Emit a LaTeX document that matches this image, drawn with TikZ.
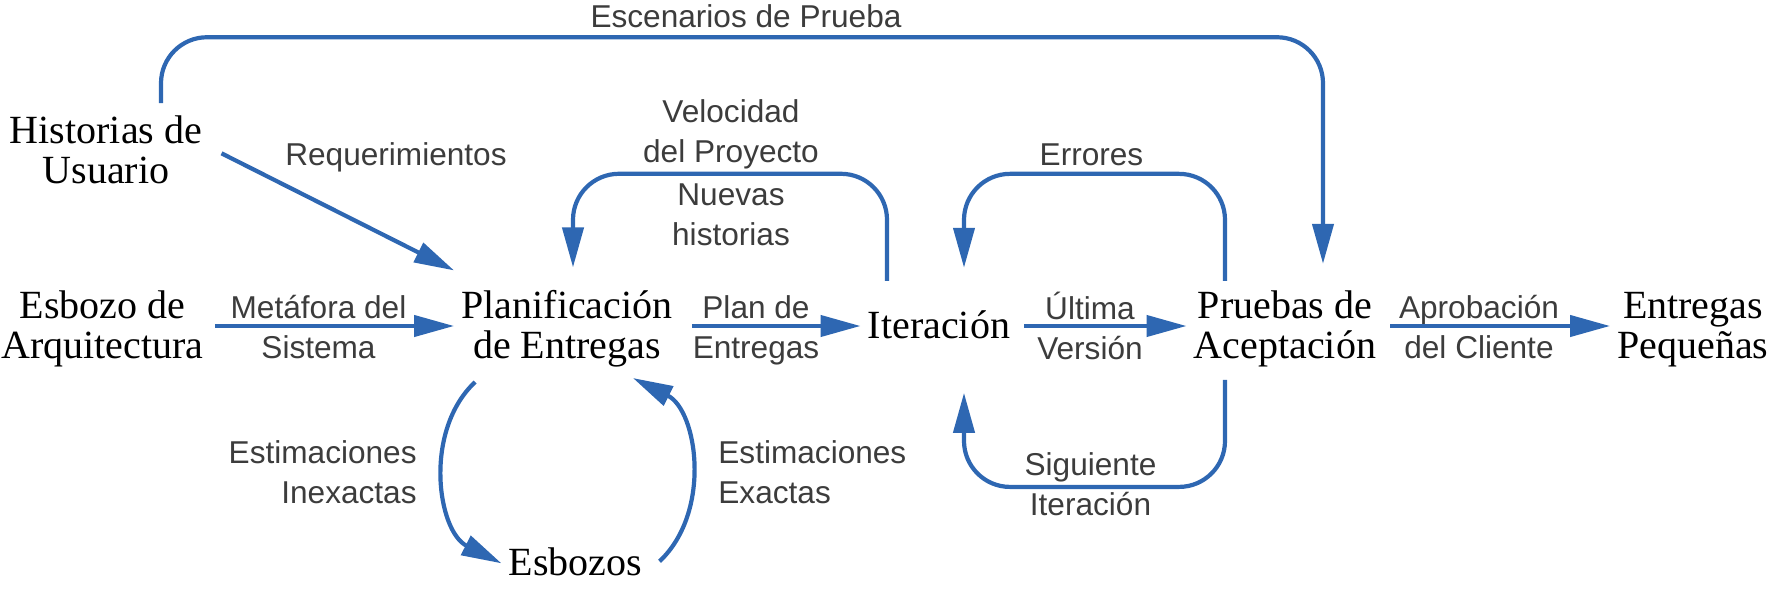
\documentclass[tikz,border=0pt]{standalone}
\usepackage{fontspec}
\setmainfont{Liberation Serif}
\setsansfont{Liberation Sans}
\usetikzlibrary{arrows.meta}
\definecolor{xpblue}{RGB}{46,103,178}
\definecolor{xpgray}{RGB}{60,60,60}

\begin{document}
\begin{tikzpicture}[x = 0.5pt, y = -0.5pt,
		activity/.style = {font=\fontsize{20}{20}\selectfont, align=center, inner sep=3.5pt, anchor=base},
		flowlabel/.style = {font=\sffamily\fontsize{15.8}{20}\selectfont, text=xpgray, align=center, inner sep=0pt, anchor=base},
		flow/.style = {xpblue, line width=2.1pt, -{Triangle[length=20pt, width=10.5pt]}},
		loop/.style = {flow, rounded corners=23pt}]
		\useasboundingbox (0,0) rectangle (1769,589);
		\coordinate (row) at (0,326);
		\node[activity] (historias) at (106,183) {Historias de\\Usuario};
		\node[activity] (esbozo) at (102.5,358) {Esbozo de\\Arquitectura};
		\node[activity] (planificacion) at (567,358) {Planificación\\de Entregas};
		\node[activity] (iteracion) at (939,338) {Iteración};
		\node[activity] (pruebas) at (1285,358) {Pruebas de\\Aceptación};
		\node[activity] (entregas) at (1693,358) {Entregas\\Pequeñas};
		\node[activity] (esbozos) at (575.5,575) {Esbozos};
		\node[flowlabel] (escenarios) at (746,27) {Escenarios de Prueba};
		\node[flowlabel] (requerimientos) at (396,165) {Requerimientos};
		\node[flowlabel] (metafora) at (318.5,358) {Metáfora del\\Sistema};
		\node[flowlabel] (planlabel) at (756,358) {Plan de\\Entregas};
		\node[flowlabel] (velocidad) at (731,162) {Velocidad\\del Proyecto};
		\node[flowlabel] (nuevas) at (731,245) {Nuevas\\historias};
		\node[flowlabel] (errores) at (1091.5,165) {Errores};
		\node[flowlabel] (ultima) at (1090,359) {Última\\Versión};
		\node[flowlabel] (siguiente) at (1090.5,515) {Siguiente\\Iteración};
		\node[flowlabel] (aprobacion) at (1479,358) {Aprobación\\del Cliente};
		\node[flowlabel, align=right, anchor=base east] (inexactas) at (417,503) {Estimaciones\\Inexactas};
		\node[flowlabel, align=left, anchor=base west] (exactas) at (718,503) {Estimaciones\\Exactas};
		\draw[loop] ([xshift=27.5pt,yshift=2.3pt]historias.north) -- ++(0,-66) -| ([xshift=19pt,yshift=9.5pt]pruebas.north);
		\draw[flow] ([xshift=6pt,yshift=-2pt]historias.east) -- ([yshift=6pt]planificacion.north west);
		\draw[flow, shorten <=2pt] (esbozo.east |- row) -- (planificacion.west |- row);
		\draw[flow, shorten <=6pt] (planificacion.east |- row) -- (iteracion.west |- row);
		\draw[flow, shorten <=3.5pt] (iteracion.east |- row) -- (pruebas.west |- row);
		\draw[flow, shorten <=3.5pt] (pruebas.east |- row) -- (entregas.west |- row);
		\draw[loop] ([xshift=-26pt,yshift=11pt]iteracion.north) -- ++(0,-107) -| ([xshift=3pt,yshift=7.5pt]planificacion.north);
		\draw[loop] ([xshift=-30pt,yshift=1pt]pruebas.north) -- ++(0,-107) -| ([xshift=12.5pt,yshift=17.5pt]iteracion.north);
		\draw[loop] ([xshift=-30pt,yshift=-3pt]pruebas.south) -- ++(0,107) -| ([xshift=12.5pt,yshift=-23.5pt]iteracion.south);
		\draw[flow] ([xshift=10.5pt,yshift=-4pt]planificacion.south west) to[bend right=55] ([yshift=-1pt]esbozos.west);
		\draw[flow] ([xshift=5pt]esbozos.east) to[bend right=55] ([xshift=-23.5pt,yshift=-2pt]planificacion.south east);
	\end{tikzpicture}
\end{document}
